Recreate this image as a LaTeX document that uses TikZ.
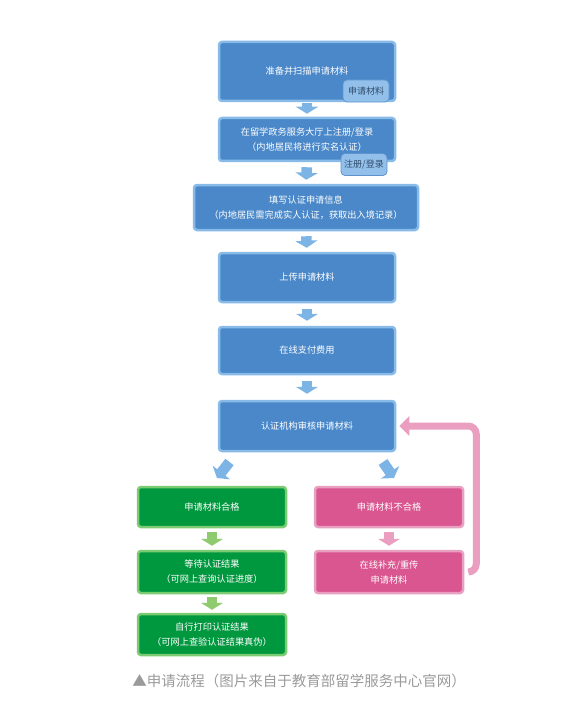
\documentclass[tikz,border=0pt]{standalone}
\usepackage{fontspec}
\setmainfont{Noto Sans CJK SC}
\usepackage{xcolor}
\usepackage{tikz}
\usetikzlibrary{arrows.meta}
\definecolor{bluex}{HTML}{4A88C9}
\definecolor{blueb}{HTML}{88BBE8}
\definecolor{bluea}{HTML}{7DB4E6}
\definecolor{greenx}{HTML}{00983F}
\definecolor{greenb}{HTML}{7BCB72}
\definecolor{greena}{HTML}{8DCB6E}
\definecolor{pinkx}{HTML}{DA5690}
\definecolor{pinkb}{HTML}{E8A0C0}
\definecolor{pinka}{HTML}{EA9FC0}
\definecolor{tagx}{HTML}{93C0EA}
\definecolor{tagb}{HTML}{5E93CF}
\definecolor{tagt}{HTML}{2F4A6A}
\definecolor{capt}{HTML}{9A9A9A}
\tikzset{
  bx/.style={draw=blueb,fill=bluex,line width=2.5pt,rounded corners=3pt,text=white,align=center,inner sep=0pt,font=\fontsize{9.2}{15}\selectfont},
  gb/.style={bx,draw=greenb,fill=greenx},
  pb/.style={bx,draw=pinkb,fill=pinkx},
  tg/.style={draw=tagb,fill=tagx,line width=0.8pt,rounded corners=4pt,text=tagt,inner sep=0pt,minimum width=46pt,minimum height=22pt,font=\fontsize{9}{10}\selectfont},
  ba/.style={-{Triangle[width=22pt,length=7pt]},line width=10.5pt,bluea},
  ga/.style={ba,greena},
  pa/.style={ba,pinka},
  lp/.style={-{Triangle[width=19pt,length=10pt]},line width=7pt,pinka,rounded corners=8pt}
}
\begin{document}
\begin{tikzpicture}[x=1pt,y=-1pt]
\useasboundingbox (0,0) rectangle (573,722);
% main column
\node[bx,minimum width=176pt,minimum height=59pt] (b1) at (307,71.5) {准备并扫描申请材料};
\node[bx,minimum width=176pt,minimum height=43pt] (b2) at (307,139.5) {在留学政务服务大厅上注册/登录\\（内地居民将进行实名认证）};
\node[bx,minimum width=224pt,minimum height=45pt] (b3) at (306,207.5) {填写认证申请信息\\（内地居民需完成实人认证，获取出入境记录）};
\node[bx,minimum width=176pt,minimum height=49pt] (b4) at (307,277.5) {上传申请材料};
\node[bx,minimum width=176pt,minimum height=47pt] (b5) at (307,350.5) {在线支付费用};
\node[bx,minimum width=176pt,minimum height=50pt] (b6) at (307,426) {认证机构审核申请材料};
\node[tg] (t1) at (366,91) {申请材料};
\node[tg] (t2) at (364,164.5) {注册/登录};
% two branches
\node[gb,minimum width=148pt,minimum height=40pt] (g1) at (212,507) {申请材料合格};
\node[gb,minimum width=148pt,minimum height=42pt] (g2) at (212,572) {等待认证结果\\（可网上查询认证进度）};
\node[gb,minimum width=148pt,minimum height=41pt] (g3) at (212,634.5) {自行打印认证结果\\（可网上查验认证结果真伪）};
\node[pb,minimum width=148pt,minimum height=40pt] (p1) at (389,507) {申请材料不合格};
\node[pb,minimum width=148pt,minimum height=42pt] (p2) at (389,572) {在线补充/重传\\申请材料};
\foreach \a/\b/\s/\e in {b1/b2/1/3,b2/b3/5/4,b3/b4/5/4,b4/b5/6/5,b5/b6/6/6}{\draw[ba,shorten <=\s pt,shorten >=\e pt] (\a.south) -- (\b.north);}
\foreach \a/\b/\s/\e in {g1/g2/4/4,g2/g3/3/3}{\draw[ga,shorten <=\s pt,shorten >=\e pt] (\a.south) -- (\b.north);}
\draw[pa,shorten <=4pt,shorten >=4pt] (p1.south) -- (p2.north);
\coordinate (l0) at (229.5,462);
\coordinate (l1) at (217,478);
\coordinate (r0) at (383,462);
\coordinate (r1) at (394,478);
\draw[ba] (l0) -- (l1);
\draw[ba] (r0) -- (r1);
\draw[lp,shorten <=4pt,shorten >=3pt] (p2.east) -- ++(12,0) |- (b6.east);
\node[font=\fontsize{14.5}{16}\selectfont,text=capt] (cap) at (299,681) {▲申请流程（图片来自于教育部留学服务中心官网）};
\end{tikzpicture}
\end{document}
